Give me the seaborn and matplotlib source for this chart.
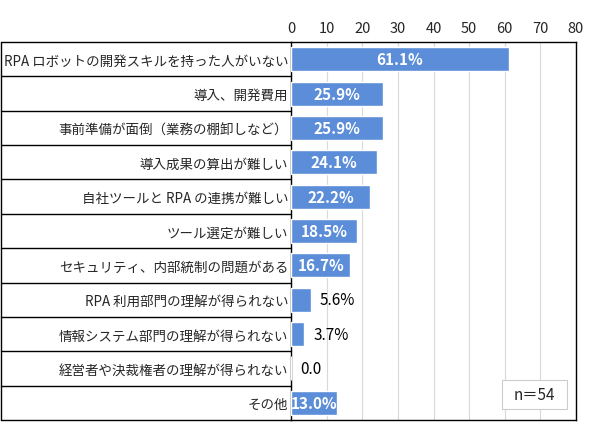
import numpy as np
import pandas as pd
import seaborn as sns
import matplotlib.pyplot as plt
import matplotlib.transforms as mtransforms
from matplotlib.patches import Rectangle

categories = [
    'RPA ロボットの開発スキルを持った人がいない',
    '導入、開発費用',
    '事前準備が面倒（業務の棚卸しなど）',
    '導入成果の算出が難しい',
    '自社ツールと RPA の連携が難しい',
    'ツール選定が難しい',
    'セキュリティ、内部統制の問題がある',
    'RPA 利用部門の理解が得られない',
    '情報システム部門の理解が得られない',
    '経営者や決裁権者の理解が得られない',
    'その他',
]
values = [61.1, 25.9, 25.9, 24.1, 22.2, 18.5, 16.7, 5.6, 3.7, 0.0, 13.0]
value_labels = ['61.1%', '25.9%', '25.9%', '24.1%', '22.2%', '18.5%', '16.7%',
                '5.6%', '3.7%', '0.0', '13.0%']
x_ticks = [0, 10, 20, 30, 40, 50, 60, 70, 80]
sample_note = 'n＝54'

sns.set_style('white')
plt.rcParams['font.family'] = ['Noto Sans CJK JP', 'DejaVu Sans']

df = pd.DataFrame({'item': categories, 'pct': values})

fig = plt.figure(figsize=(5.9, 4.31), dpi=100)
ax = fig.add_axes([291 / 590, 1 - 421 / 431, 285 / 590, 378 / 431])

sns.barplot(data=df, x='pct', y='item', color='#5b8dd9', saturation=1,
            width=0.7, ax=ax, zorder=3)

ax.set_xlim(0, 80)
ax.set_ylim(len(categories) - 0.5, -0.5)
ax.set_xticks(x_ticks)
ax.xaxis.tick_top()
ax.tick_params(axis='x', length=0, pad=5, labelsize=10.5)
ax.tick_params(axis='y', length=0, pad=2, labelsize=9.7)
ax.set_xlabel('')
ax.set_ylabel('')
ax.grid(axis='x', color='#d9d9d9', linewidth=0.8, zorder=0)
for side in ['top', 'bottom', 'left', 'right']:
    ax.spines[side].set_visible(True)
    ax.spines[side].set_color('black')
    ax.spines[side].set_linewidth(1.0)

# value labels
for i, (v, lab) in enumerate(zip(values, value_labels)):
    if v >= 10:
        ax.text(v / 2, i, lab, ha='center', va='center', color='white',
                fontsize=11, fontweight='bold', zorder=4)
    else:
        ax.text(v + 2.5, i, lab, ha='left', va='center', color='black',
                fontsize=11, zorder=4)

# table lines around the category labels
left_edge = (1 - 291) / 285
trans = mtransforms.blended_transform_factory(ax.transAxes, ax.transData)
n = len(categories)
for k in range(n + 1):
    y = k - 0.5
    ax.plot([left_edge, 0], [y, y], transform=trans, color='black',
            linewidth=1.0, clip_on=False)
ax.plot([left_edge, left_edge], [-0.5, n - 0.5], transform=trans,
        color='black', linewidth=1.0, clip_on=False)

# sample size box
ax.add_patch(Rectangle((0.740, 0.029), 0.228, 0.077, transform=ax.transAxes,
                       facecolor='white', edgecolor='#cccccc', linewidth=0.8,
                       zorder=5))
ax.text(0.854, 0.068, sample_note, transform=ax.transAxes, ha='center',
        va='center', fontsize=11, zorder=6)

fig.savefig('out.png', dpi=100)
